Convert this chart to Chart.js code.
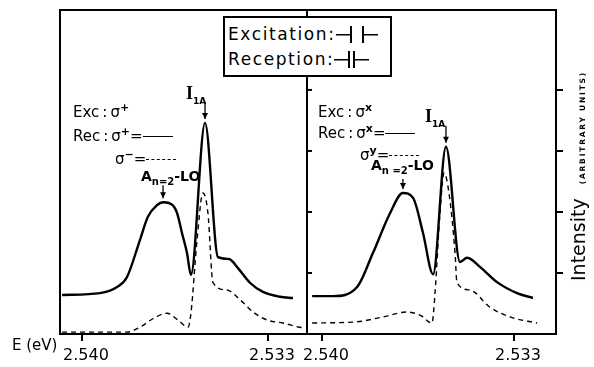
<!DOCTYPE html>
<html>
<head>
<meta charset="utf-8">
<script src="https://cdn.jsdelivr.net/npm/chart.js@4.4.1/dist/chart.umd.min.js"></script>
<style>
  body { margin: 0; background: #fff; }
  #wrap { position: relative; width: 594px; height: 367px; font-family: "DejaVu Sans", sans-serif; color: #000; overflow: hidden; }
  canvas { position: absolute; left: 0; top: 0; }
  .lbl { position: absolute; white-space: nowrap; font-size: 15px; line-height: 18px; }
  .sup { font-size: 11px; position: relative; top: -6px; font-weight: bold; }
  .solid { display: inline-block; width: 30px; border-top: 1.5px solid #000; vertical-align: middle; }
  .dash { display: inline-block; width: 30px; border-top: 1.5px dashed #000; vertical-align: middle; }
  .peak { font-weight: bold; font-size: 14px; }
  .peak sub { font-size: 10px; }
  .iname { font-family: "Liberation Serif", serif; font-weight: bold; font-size: 18px; }
  .iname sub { font-family: "DejaVu Sans", sans-serif; font-size: 9px; }
  #keybox { position: absolute; left: 223px; top: 16px; width: 162px; height: 53px; border: 2px solid #000; background: #fff; font-size: 17px; letter-spacing: 1.6px; line-height: 25px; padding: 4px 0 0 3px; box-sizing: content-box; }
  .lt, .rt { display: inline-block; width: 14px; height: 17px; vertical-align: -3px;
    background: linear-gradient(#000, #000) no-repeat center / 100% 1.5px; }
  .lt { border-right: 2px solid #000; }
  .rt { border-left: 2px solid #000; }
  #ylabel { position: absolute; left: 578px; top: 176px; transform: translate(-50%, -50%) rotate(-90deg); white-space: nowrap; font-size: 19px; }
  #ylabel span { font-size: 7.5px; font-weight: bold; letter-spacing: 1.8px; margin-left: 14px; }
</style>
</head>
<body>
<div id="wrap">
  <canvas id="leftChart" width="594" height="367"></canvas>
  <canvas id="rightChart" width="594" height="367"></canvas>

  <div id="keybox">Excitation:<span class="lt"></span><span style="margin-left:10px" class="rt"></span><br>Reception:<span class="lt"></span><span style="margin-left:3px" class="rt"></span></div>

  <div class="lbl" style="left:73px;top:103px">Exc&thinsp;:&thinsp;σ<span class="sup">+</span></div>
  <div class="lbl" style="left:73px;top:127px">Rec&thinsp;:&thinsp;σ<span class="sup">+</span>=<span class="solid"></span></div>
  <div class="lbl" style="left:115px;top:150px">σ<span class="sup">−</span>=<span class="dash"></span></div>
  <div class="lbl peak" style="left:141px;top:167px">A<sub>n=2</sub>-LO</div>
  <div class="lbl" style="left:186px;top:84px"><span class="iname">I<sub>1A</sub></span></div>

  <div class="lbl" style="left:318px;top:103px">Exc&thinsp;:&thinsp;σ<span class="sup">x</span></div>
  <div class="lbl" style="left:318px;top:124px">Rec&thinsp;:&thinsp;σ<span class="sup">x</span>=<span class="solid"></span></div>
  <div class="lbl" style="left:360px;top:146px">σ<span class="sup">y</span>=<span class="dash"></span></div>
  <div class="lbl peak" style="left:371px;top:156px">A<sub>n =2</sub>-LO</div>
  <div class="lbl" style="left:425px;top:107px"><span class="iname">I<sub>1A</sub></span></div>

  <div class="lbl" style="left:12px;top:336px;font-size:15px">E (eV)</div>
  <div id="ylabel">Intensity<span>(ARBITRARY UNITS)</span></div>
</div>

<script>
// tick values
const xTicks = [2.540, 2.533];
const yTicks = [1, 2, 3, 4];

// left panel: Exc sigma+, Rec sigma+ (solid) / sigma- (dashed)
const leftSolidE = [2.54075, 2.53932, 2.53868, 2.53831, 2.53782, 2.53752, 2.53718, 2.53695, 2.53658, 2.53642, 2.53624,
  2.53605, 2.53590, 2.53537, 2.53488, 2.53447, 2.53413, 2.53368, 2.53319, 2.53255, 2.53206];
const leftSolidI = [0.64, 0.67, 0.77, 0.93, 1.54, 1.92, 2.11, 2.16, 2.11, 1.98, 1.66,
  1.33, 0.97, 3.46, 1.26, 1.23, 1.08, 0.84, 0.69, 0.61, 0.59];
const leftDashE = [2.54075, 2.53831, 2.53782, 2.53733, 2.53680, 2.53639, 2.53601, 2.53590, 2.53567, 2.53545,
  2.53526, 2.53507, 2.53454, 2.53405, 2.53356, 2.53304, 2.53244, 2.53180, 2.53161];
const leftDashI = [0.03, 0.03, 0.11, 0.25, 0.34, 0.23, 0.11, 0.34, 1.54, 2.31,
  1.98, 0.84, 0.72, 0.56, 0.36, 0.23, 0.18, 0.11, 0.10];

// right panel: Exc sigma x, Rec sigma x (solid) / sigma y (dashed)
const rightSolidE = [2.54036, 2.53960, 2.53872, 2.53814, 2.53752, 2.53705, 2.53668, 2.53632, 2.53595, 2.53548,
  2.53497, 2.53471, 2.53424, 2.53362, 2.53289, 2.53231];
const rightSolidI = [0.62, 0.62, 0.77, 1.33, 1.98, 2.31, 2.23, 1.66, 0.98, 3.07,
  1.18, 1.25, 1.10, 0.85, 0.67, 0.59];
const rightDashE = [2.54036, 2.53872, 2.53778, 2.53690, 2.53643, 2.53599, 2.53588, 2.53570, 2.53555, 2.53537,
  2.53515, 2.53508, 2.53460, 2.53388, 2.53315, 2.53216];
const rightDashI = [0.18, 0.20, 0.28, 0.36, 0.31, 0.18, 0.67, 1.98, 2.64, 2.31,
  1.33, 0.84, 0.72, 0.44, 0.28, 0.18];

function toPoints(xs, ys) {
  return xs.map((x, i) => ({ x: x, y: ys[i] }));
}

// frame round the plot area + arrows over the two peaks of the solid curve
const framePlugin = {
  id: 'frame',
  afterDraw(chart) {
    const a = chart.chartArea;
    const ctx = chart.ctx;
    ctx.save();
    ctx.strokeStyle = '#000';
    ctx.lineWidth = 2;
    ctx.strokeRect(a.left, a.top, a.right - a.left, a.bottom - a.top);

    // small ticks on the left side of the right panel (the divider)
    if (chart.options.plugins.frame.innerTicks) {
      const ys = chart.scales.y;
      yTicks.forEach(v => {
        const py = ys.getPixelForValue(v);
        ctx.beginPath();
        ctx.moveTo(a.left, py);
        ctx.lineTo(a.left + 5, py);
        ctx.stroke();
      });
    }

    // arrows: I1A = highest point, An=2-LO = highest point before the dip
    const pts = chart.getDatasetMeta(0).data;
    const vals = chart.data.datasets[0].data.map(p => p.y);
    let iMax = 0;
    vals.forEach((v, i) => { if (v > vals[iMax]) iMax = i; });
    let iAn = 0;
    for (let i = 0; i < iMax - 2; i++) { if (vals[i] > vals[iAn]) iAn = i; }
    const o = chart.options.plugins.frame;
    [[iMax, o.arrowMax], [iAn, o.arrowAn]].forEach(([i, len]) => {
      const x = pts[i].x, y = pts[i].y - 4;
      ctx.lineWidth = 1.3;
      ctx.beginPath();
      ctx.moveTo(x, y - len);
      ctx.lineTo(x, y);
      ctx.stroke();
      ctx.beginPath();
      ctx.moveTo(x - 3, y - 6);
      ctx.lineTo(x, y);
      ctx.lineTo(x + 3, y - 6);
      ctx.closePath();
      ctx.fillStyle = '#000';
      ctx.fill();
    });
    ctx.restore();
  }
};

function makePanel(id, solid, dashed, range, pad, showY, frameOpts) {
  return new Chart(document.getElementById(id), {
    type: 'scatter',
    data: {
      datasets: [{
        data: solid,
        showLine: true,
        borderColor: '#000',
        borderWidth: 2.4,
        pointRadius: 0,
        cubicInterpolationMode: 'monotone'
      }, {
        data: dashed,
        showLine: true,
        borderColor: '#000',
        borderWidth: 1.4,
        borderDash: [5, 4],
        pointRadius: 0,
        cubicInterpolationMode: 'monotone'
      }]
    },
    options: {
      responsive: false,
      animation: false,
      layout: { padding: pad },
      plugins: {
        legend: { display: false },
        tooltip: { enabled: false },
        frame: frameOpts
      },
      scales: {
        x: {
          type: 'linear',
          reverse: true,
          min: range[0],
          max: range[1],
          afterBuildTicks: s => { s.ticks = xTicks.map(v => ({ value: v })); },
          afterFit: s => { s.height = 33; },
          grid: { drawOnChartArea: false, drawTicks: true, tickLength: 7, color: '#000', lineWidth: 2 },
          border: { display: false },
          ticks: {
            color: '#000',
            padding: 5,
            labelOffset: 4,
            maxRotation: 0,
            font: { family: 'DejaVu Sans', size: 16 },
            callback: v => v.toFixed(3)
          }
        },
        y: {
          display: showY,
          position: 'right',
          min: 0,
          max: 5.31,
          afterBuildTicks: s => { s.ticks = yTicks.map(v => ({ value: v })); },
          afterFit: s => { s.width = showY ? 8 : 0; },
          grid: { drawOnChartArea: false, drawTicks: true, tickLength: 7, color: '#000', lineWidth: 2 },
          border: { display: false },
          ticks: { display: false }
        }
      }
    },
    plugins: [framePlugin]
  });
}

makePanel('leftChart', toPoints(leftSolidE, leftSolidI), toPoints(leftDashE, leftDashI),
  [2.531532, 2.540828], { left: 60, right: 287, top: 10, bottom: 0 }, false,
  { innerTicks: false, arrowMax: 17, arrowAn: 13 });

makePanel('rightChart', toPoints(rightSolidE, rightSolidI), toPoints(rightDashE, rightDashI),
  [2.531469, 2.540547], { left: 307, right: 30, top: 10, bottom: 0 }, true,
  { innerTicks: true, arrowMax: 17, arrowAn: 10 });
</script>
</body>
</html>
